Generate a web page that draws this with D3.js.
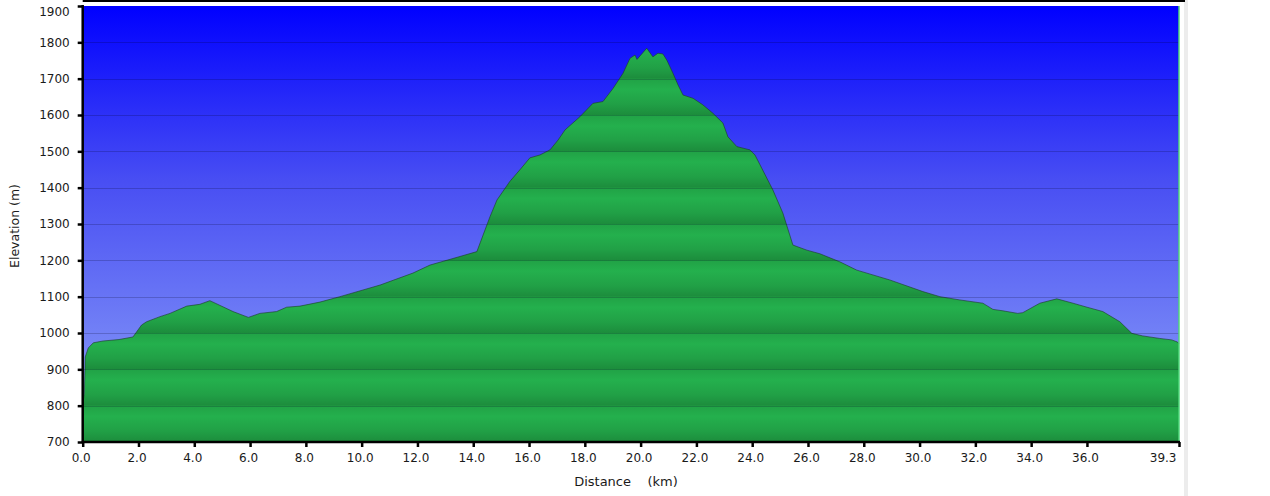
<!DOCTYPE html>
<html>
<head>
<meta charset="utf-8">
<script src="https://cdn.jsdelivr.net/npm/d3@7"></script>
<style>
html,body{margin:0;padding:0;background:#fff;}
svg{display:block;}
text{font-family:"DejaVu Sans",Verdana,sans-serif;font-size:12px;fill:#1a1a1a;}
</style>
</head>
<body>
<svg id="chart" width="1270" height="496"></svg>
<script>
const distanceKm = [0.0,0.06,0.09,0.20,0.38,0.73,1.30,1.80,2.11,2.29,2.77,3.13,3.73,4.20,4.56,5.39,5.94,6.35,6.95,7.31,7.79,8.50,9.22,10.66,11.84,12.45,13.27,14.13,14.60,14.85,15.31,15.67,16.03,16.39,16.75,17.04,17.29,17.82,18.29,18.65,19.01,19.37,19.62,19.80,19.87,20.22,20.44,20.62,20.80,20.94,21.16,21.34,21.52,21.88,22.23,22.59,22.95,23.13,23.45,23.92,24.10,24.56,24.74,25.10,25.46,25.96,26.43,27.14,27.75,28.93,30.12,30.73,31.44,32.27,32.63,32.99,33.52,33.70,34.31,34.92,35.50,36.00,36.57,37.18,37.61,38.00,38.61,39.04,39.25,39.30];
const elevationM = [800,835,934,959,973,978,982,989,1022,1031,1045,1054,1074,1079,1089,1059,1043,1054,1059,1071,1074,1085,1100,1132,1165,1187,1205,1224,1320,1366,1417,1449,1482,1490,1504,1531,1559,1595,1632,1637,1673,1715,1756,1765,1753,1784,1760,1770,1768,1751,1715,1683,1655,1646,1628,1605,1578,1540,1513,1504,1490,1421,1394,1330,1242,1228,1218,1196,1173,1146,1114,1100,1091,1082,1065,1061,1054,1056,1082,1094,1082,1071,1059,1031,999,992,985,981,975,970];
const xTicks = [0,2,4,6,8,10,12,14,16,18,20,22,24,26,28,30,32,34,36,39.3];
const yTicks = [700,800,900,1000,1100,1200,1300,1400,1500,1600,1700,1800,1900];
const xTitle = "Distance    (km)";
const yTitle = "Elevation (m)";

const data = distanceKm.map((d,i)=>({d, e: elevationM[i]}));
const svg = d3.select("#chart");
const x = d3.scaleLinear().domain([0,39.3]).range([82.7,1179]);
const y = d3.scaleLinear().domain([700,1900]).range([442,6]);
const band = y(700)-y(800);

const defs = svg.append("defs");
const sky = defs.append("linearGradient").attr("id","sky").attr("x1",0).attr("y1",0).attr("x2",0).attr("y2",1);
[[0,"#0000ff"],[0.4,"#484ef3"],[0.77,"#7483f6"],[1,"#9aaafc"]].forEach(s=>sky.append("stop").attr("offset",s[0]).attr("stop-color",s[1]));

const gg = defs.append("linearGradient").attr("id","gband").attr("x1",0).attr("y1",0).attr("x2",0).attr("y2",1);
[[0,"#21a246"],[0.3,"#24b04d"],[0.7,"#21a046"],[1,"#1c8c3c"]].forEach(s=>gg.append("stop").attr("offset",s[0]).attr("stop-color",s[1]));
const pat = defs.append("pattern").attr("id","gpat").attr("patternUnits","userSpaceOnUse")
  .attr("x",0).attr("y",y(1900)).attr("width",1270).attr("height",band);
pat.append("rect").attr("width",1270).attr("height",band).attr("fill","url(#gband)");

// right-side light strip
svg.append("rect").attr("x",1184).attr("y",0).attr("width",4).attr("height",496).attr("fill","#ececec");

// sky
svg.append("rect").attr("x",x(0)).attr("y",y(1900)).attr("width",x(39.3)-x(0)).attr("height",y(700)-y(1900)).attr("fill","url(#sky)");

// terrain
const area = d3.area().x(d=>x(d.d)).y0(y(700)).y1(d=>y(d.e)).curve(d3.curveLinear);
svg.append("path").datum(data).attr("d",area).attr("fill","url(#gpat)");
const line = d3.line().x(d=>x(d.d)).y(d=>y(d.e));
svg.append("path").datum(data).attr("d",line).attr("fill","none").attr("stroke","#1d3b28").attr("stroke-opacity",0.6).attr("stroke-width",1);

// gridlines
svg.append("g").selectAll("line").data(yTicks.filter(t=>t>700&&t<1900)).join("line")
  .attr("x1",x(0)).attr("x2",x(39.3)).attr("y1",d=>Math.round(y(d))+0.5).attr("y2",d=>Math.round(y(d))+0.5)
  .attr("stroke","#000020").attr("stroke-opacity",0.2).attr("stroke-width",1);

// right green edge
svg.append("line").attr("x1",x(39.3)).attr("x2",x(39.3)).attr("y1",y(1900)).attr("y2",y(700)).attr("stroke","#4fd67a").attr("stroke-width",1.5);

// top frame line
svg.append("line").attr("x1",x(0)).attr("x2",1185).attr("y1",1).attr("y2",1).attr("stroke","#000").attr("stroke-width",2);

// Y axis
const yAxis = svg.append("g").attr("transform",`translate(${x(0)},0)`)
  .call(d3.axisLeft(y).tickValues(yTicks).tickSize(5).tickPadding(8).tickFormat(d3.format("d")));
yAxis.select(".domain").attr("stroke","#000").attr("stroke-width",2.5).attr("d",`M0,${y(1900)-1}V${y(700)}`);
yAxis.selectAll(".tick line").attr("stroke","#000").attr("stroke-width",2.5);
yAxis.selectAll(".tick text").attr("font-size",null).attr("font-family",null).attr("fill","#1a1a1a")
  .attr("dy",d=>d===1900?"0.75em":"0.32em");

// X axis
const xAxis = svg.append("g").attr("transform",`translate(0,${y(700)})`)
  .call(d3.axisBottom(x).tickValues(xTicks).tickSize(5).tickPadding(6).tickFormat(d3.format(".1f")));
xAxis.select(".domain").attr("stroke","#000").attr("stroke-width",2.5).attr("d",`M${x(0)-1},0H${x(39.3)+1}`);
xAxis.selectAll(".tick line").attr("stroke","#000").attr("stroke-width",2.5);
xAxis.selectAll(".tick text").attr("font-size",null).attr("font-family",null).attr("fill","#1a1a1a")
  .attr("text-anchor",d=>d===39.3?"end":"middle").attr("dx",d=>d===39.3?-3:-2);

// titles
svg.append("text").attr("x",626).attr("y",486).attr("text-anchor","middle").style("font-size","13px").style("white-space","pre").text(xTitle);
svg.append("text").attr("transform","translate(19,226) rotate(-90)").attr("text-anchor","middle").style("font-size","12.5px").text(yTitle);
</script>
</body>
</html>
